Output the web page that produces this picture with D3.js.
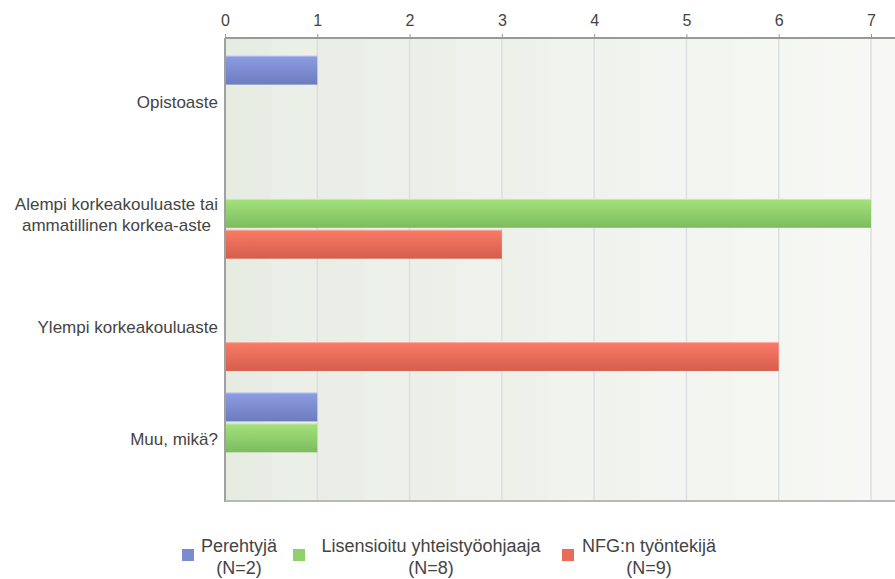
<!DOCTYPE html>
<html>
<head>
<meta charset="utf-8">
<script src="https://cdn.jsdelivr.net/npm/d3@7/dist/d3.min.js"></script>
<style>
  html, body { margin: 0; padding: 0; background: #fff; }
  svg { display: block; font-family: "Liberation Sans", Arial, sans-serif; }
</style>
</head>
<body>
<svg id="chart" width="895" height="579"></svg>
<script>
// Koulutustaso vastaajaryhmittäin
const categories = [
  ["Opistoaste"],
  ["Alempi korkeakouluaste tai", "ammatillinen korkea-aste"],
  ["Ylempi korkeakouluaste"],
  ["Muu, mikä?"]
];
const seriesNames = ["Perehtyjä", "Lisensioitu yhteistyöohjaaja", "NFG:n työntekijä"];
const seriesN = ["(N=2)", "(N=8)", "(N=9)"];
const perehtyja = [1, 0, 0, 1];
const lisensioitu = [0, 7, 0, 1];
const nfg = [0, 3, 6, 0];
const tickValues = [0, 1, 2, 3, 4, 5, 6, 7];

const seriesValues = [perehtyja, lisensioitu, nfg];
const colors = [
  { top: "#8c9de3", bottom: "#6c7cbd", key: "#7b8bd0" },
  { top: "#a4e27c", bottom: "#7cbc5e", key: "#8fd06c" },
  { top: "#f97b66", bottom: "#d65e4c", key: "#ea6c58" }
];

const svg = d3.select("#chart");
const plot = { left: 225, right: 895, top: 38, bottom: 501 };

const x = d3.scaleLinear().domain([0, 7]).range([plot.left, 871]);
const y = d3.scaleBand()
  .domain(d3.range(categories.length))
  .range([plot.top, plot.bottom])
  .paddingInner(0)
  .paddingOuter(0.062);
const ySub = d3.scaleBand()
  .domain(d3.range(seriesNames.length))
  .range([0, y.bandwidth()])
  .paddingInner(0.067)
  .paddingOuter(0.35);

const defs = svg.append("defs");
const bg = defs.append("linearGradient").attr("id", "bg").attr("x1", 0).attr("x2", 1).attr("y1", 0).attr("y2", 0);
bg.append("stop").attr("offset", 0).attr("stop-color", "#e7ece3");
bg.append("stop").attr("offset", 1).attr("stop-color", "#f7f8f5");
colors.forEach((c, i) => {
  const g = defs.append("linearGradient").attr("id", "bar" + i)
    .attr("x1", 0).attr("x2", 0).attr("y1", 0).attr("y2", 1);
  g.append("stop").attr("offset", 0).attr("stop-color", c.top);
  g.append("stop").attr("offset", 1).attr("stop-color", c.bottom);
});

// plot background
svg.append("rect")
  .attr("x", plot.left).attr("y", plot.top)
  .attr("width", plot.right - plot.left).attr("height", plot.bottom - plot.top)
  .attr("fill", "url(#bg)");

// faint half-unit stripes
svg.append("g").selectAll("rect")
  .data(d3.range(0, 7.5, 1))
  .join("rect")
  .attr("x", d => x(d + 0.5)).attr("y", plot.top)
  .attr("width", d => Math.min(x(d + 1), plot.right) - x(d + 0.5))
  .attr("height", plot.bottom - plot.top)
  .attr("fill", "#ffffff").attr("opacity", 0.12);

// vertical grid lines
svg.append("g").selectAll("line")
  .data(tickValues.slice(1))
  .join("line")
  .attr("x1", d => x(d)).attr("x2", d => x(d))
  .attr("y1", plot.top).attr("y2", plot.bottom)
  .attr("stroke", "#dcdfe2").attr("stroke-width", 1.5);

// bars
seriesValues.forEach((vals, s) => {
  const pts = vals.map((v, i) => ({ v, i })).filter(d => d.v > 0);
  svg.append("g").selectAll("rect")
    .data(pts)
    .join("rect")
    .attr("x", x(0))
    .attr("y", d => y(d.i) + ySub(s))
    .attr("width", d => x(d.v) - x(0))
    .attr("height", ySub.bandwidth())
    .attr("fill", "url(#bar" + s + ")");
  svg.append("g").selectAll("line")
    .data(pts)
    .join("line")
    .attr("x1", x(0)).attr("x2", d => x(d.v))
    .attr("y1", d => y(d.i) + ySub(s) + 0.5).attr("y2", d => y(d.i) + ySub(s) + 0.5)
    .attr("stroke", "#ffffff").attr("stroke-opacity", 0.35);
});

// top axis
const xAxis = d3.axisTop(x).tickValues(tickValues).tickSize(4).tickPadding(8).tickFormat(d3.format("d"));
const gx = svg.append("g").attr("transform", `translate(0,${plot.top})`).call(xAxis);
gx.select(".domain").remove();
gx.selectAll(".tick line").attr("stroke", "#999");
gx.selectAll(".tick text").attr("fill", "#444").attr("font-size", 16)
  .attr("font-family", "'Liberation Sans', Arial, sans-serif");
svg.append("line").attr("x1", plot.left).attr("x2", plot.right)
  .attr("y1", plot.top).attr("y2", plot.top).attr("stroke", "#999").attr("stroke-width", 2);

// left and bottom axis lines
svg.append("line").attr("x1", plot.left).attr("x2", plot.left)
  .attr("y1", plot.top).attr("y2", plot.bottom + 1).attr("stroke", "#a0a0a0").attr("stroke-width", 2);
svg.append("line").attr("x1", plot.left).attr("x2", plot.right)
  .attr("y1", plot.bottom).attr("y2", plot.bottom).attr("stroke", "#b8b8b8").attr("stroke-width", 2);

// category labels: each block right-aligned to the axis, lines centred in the block
const labels = svg.append("g").selectAll("text")
  .data(categories.map((lines, i) => ({ lines, i })))
  .join("text")
  .attr("text-anchor", "middle")
  .attr("font-size", 17)
  .attr("fill", "#444");
labels.each(function(d) {
  const t = d3.select(this);
  const cy = y(d.i) + y.bandwidth() / 2 + 1;
  const n = d.lines.length;
  d.lines.forEach((line, k) => {
    t.append("tspan")
      .attr("x", 0)
      .attr("y", cy + (k - (n - 1) / 2) * 21 + 6)
      .text(line);
  });
});
labels.each(function() {
  const bb = this.getBBox();
  d3.select(this).selectAll("tspan").attr("x", 218 - bb.width / 2);
});

// legend
const legendItems = [
  { swatch: 182, center: 239 },
  { swatch: 293, center: 431 },
  { swatch: 562, center: 649 }
];
const legend = svg.append("g");
seriesNames.forEach((name, i) => {
  const li = legendItems[i];
  legend.append("rect")
    .attr("x", li.swatch).attr("y", 549).attr("width", 12).attr("height", 12)
    .attr("fill", colors[i].key);
  const t = legend.append("text").attr("text-anchor", "middle").attr("font-size", 18).attr("fill", "#444");
  t.append("tspan").attr("x", li.center).attr("y", 552).text(name);
  t.append("tspan").attr("x", li.center).attr("y", 574).text(seriesN[i]);
});
</script>
</body>
</html>
